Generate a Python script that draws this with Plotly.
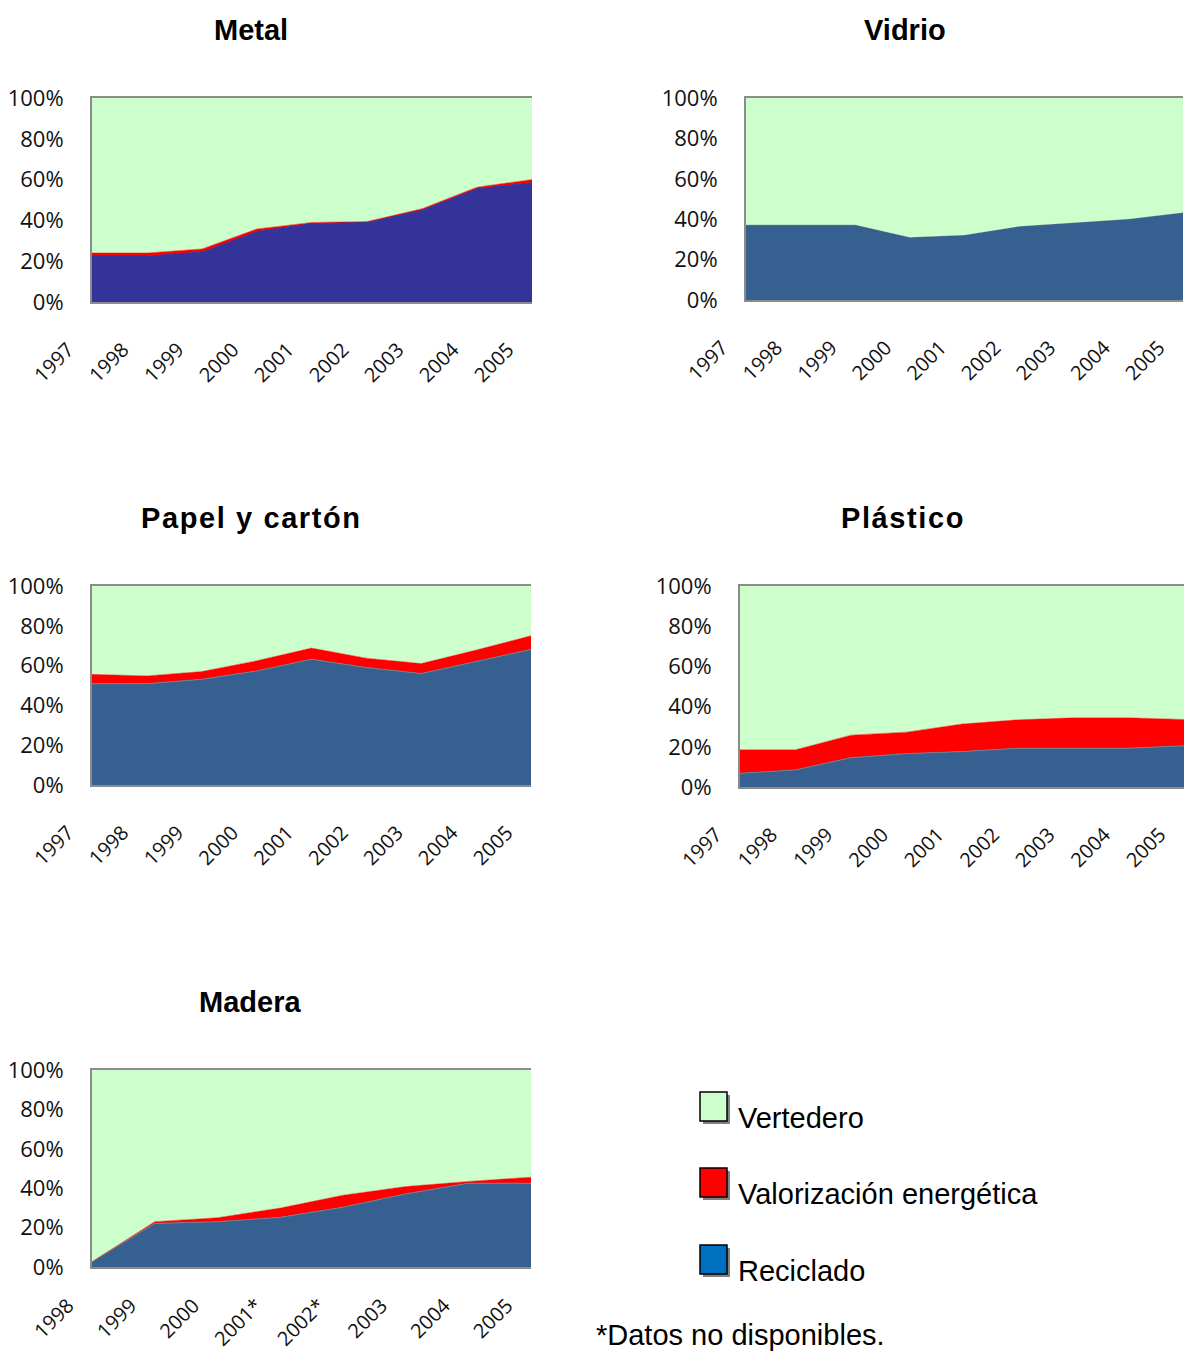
import plotly.graph_objects as go

# ---- data (percent of each material's waste by destination) ----
years_main = ["1997", "1998", "1999", "2000", "2001", "2002", "2003", "2004", "2005"]
years_madera = ["1998", "1999", "2000", "2001*", "2002*", "2003", "2004", "2005"]

metal_reciclado = [22.5, 22.5, 24.5, 34.5, 38.5, 39.0, 45.0, 55.5, 58.5]
metal_valorizacion = [1.5, 1.5, 1.5, 1.3, 0.5, 0.4, 0.7, 0.8, 1.5]
metal_vertedero = [76.0, 76.0, 74.0, 64.2, 61.0, 60.6, 54.3, 43.7, 40.0]

vidrio_reciclado = [37.2, 37.2, 37.2, 31.1, 32.2, 36.5, 38.2, 40.1, 43.3]
vidrio_valorizacion = [0, 0, 0, 0, 0, 0, 0, 0, 0]
vidrio_vertedero = [62.8, 62.8, 62.8, 68.9, 67.8, 63.5, 61.8, 59.9, 56.7]

papel_reciclado = [50.9, 50.9, 53.1, 57.3, 63.2, 59.0, 56.0, 62.0, 68.1]
papel_valorizacion = [4.7, 3.9, 3.9, 5.1, 5.6, 4.7, 5.0, 5.8, 6.9]
papel_vertedero = [44.4, 45.2, 43.0, 37.6, 31.2, 36.3, 39.0, 32.2, 25.0]

plastico_reciclado = [6.8, 8.5, 14.6, 16.6, 17.6, 19.3, 19.3, 19.3, 20.5]
plastico_valorizacion = [11.7, 10.0, 11.2, 10.7, 13.7, 14.1, 15.1, 15.1, 13.1]
plastico_vertedero = [81.5, 81.5, 74.2, 72.7, 68.7, 66.6, 65.6, 65.6, 66.4]

madera_reciclado = [2.7, 22.1, 23.0, 25.2, 30.3, 37.1, 42.5, 42.5]
madera_valorizacion = [0.0, 0.9, 2.0, 4.7, 6.1, 3.7, 0.9, 3.1]
madera_vertedero = [97.3, 77.0, 75.0, 70.1, 63.6, 59.2, 56.6, 54.4]

W, H = 1185, 1351
GREEN = "#CCFFCC"
RED = "#FF0000"
STEEL = "#36608F"
INDIGO = "#333399"
LEGEND_BLUE = "#0070C0"
TICK_FONT = "Open Sans"
TITLE_FONT = "Liberation Sans"


def px_x(x):
    return x / W


def px_y(y):
    return 1 - y / H


# panel: title, labels, series, plot box in pixels (left, top, right, bottom),
# blue colour, title centre, spaced title, x-label standoff
panels = [
    ("Metal", years_main, metal_reciclado, metal_valorizacion, metal_vertedero,
     (92, 98, 532, 302), INDIGO, (251, 30), False, 26),
    ("Vidrio", years_main, vidrio_reciclado, vidrio_valorizacion, vidrio_vertedero,
     (746, 98, 1183, 300), STEEL, (905, 30), False, 26),
    ("Papel y cartón", years_main, papel_reciclado, papel_valorizacion, papel_vertedero,
     (92, 586, 531, 785), STEEL, (251, 518), True, 26),
    ("Plástico", years_main, plastico_reciclado, plastico_valorizacion, plastico_vertedero,
     (740, 586, 1184, 787), STEEL, (903, 518), True, 26),
    ("Madera", years_madera, madera_reciclado, madera_valorizacion, madera_vertedero,
     (92, 1070, 531, 1267), STEEL, (250, 1002), False, 17),
]

fig = go.Figure()
annotations = []
shapes = []

for i, (title, labels, rec, val, ver, box, blue, tpos, spaced, standoff) in enumerate(panels, start=1):
    xa = "x" if i == 1 else f"x{i}"
    ya = "y" if i == 1 else f"y{i}"
    idx = list(range(len(labels)))
    group = f"g{i}"
    edge = blue if blue == INDIGO else "#6f7f92"
    red_w = 0.5 if any(v > 0 for v in val) else 0
    fig.add_trace(go.Scatter(x=idx, y=rec, name="Reciclado", stackgroup=group,
                             mode="lines", line=dict(color=edge, width=1),
                             fillcolor=blue, xaxis=xa, yaxis=ya, showlegend=False))
    fig.add_trace(go.Scatter(x=idx, y=val, name="Valorización energética", stackgroup=group,
                             mode="lines", line=dict(color=RED, width=red_w),
                             fillcolor=RED, xaxis=xa, yaxis=ya, showlegend=False))
    fig.add_trace(go.Scatter(x=idx, y=ver, name="Vertedero", stackgroup=group,
                             mode="lines", line=dict(color=GREEN, width=0),
                             fillcolor=GREEN, xaxis=xa, yaxis=ya, showlegend=False))

    left, top, right, bottom = box
    xkey = "xaxis" if i == 1 else f"xaxis{i}"
    ykey = "yaxis" if i == 1 else f"yaxis{i}"
    fig.update_layout({
        xkey: dict(domain=[px_x(left), px_x(right)], range=[0, len(labels) - 1],
                   anchor=ya, tickvals=idx, ticktext=labels, tickangle=-45,
                   tickfont=dict(family=TICK_FONT, size=20, color="#111111"),
                   showgrid=False, zeroline=False, ticks="", automargin=False,
                   ticklabelshift=-24, ticklabelstandoff=standoff,
                   showline=True, linecolor="#8c8c8c", linewidth=2, mirror=True,
                   fixedrange=True),
        ykey: dict(domain=[px_y(bottom), px_y(top)], range=[0, 100], anchor=xa,
                   tickvals=[0, 20, 40, 60, 80, 100],
                   ticktext=["0%", "20%", "40%", "60%", "80%", "100%"],
                   tickfont=dict(family=TICK_FONT, size=22, color="#111111"),
                   showgrid=False, zeroline=False, ticks="", ticklabelstandoff=22,
                   automargin=False,
                   showline=True, linecolor="#8c8c8c", linewidth=2,
                   fixedrange=True),
    })

    text = f"<b>{title}</b>"
    if spaced:
        text = f"<b><span style='letter-spacing:1.6px'>{title}</span></b>"
    annotations.append(dict(text=text, x=px_x(tpos[0]), y=px_y(tpos[1]),
                            xref="paper", yref="paper", xanchor="center", yanchor="middle",
                            showarrow=False,
                            font=dict(family=TITLE_FONT, size=29, color="#000000")))

# legend drawn as swatches with drop shadows
legend_items = [("Vertedero", GREEN, 1092), ("Valorización energética", RED, 1168),
                ("Reciclado", LEGEND_BLUE, 1245)]
for name, color, y0 in legend_items:
    x0, size_w, size_h = 700, 27, 29
    shapes.append(dict(type="rect", xref="paper", yref="paper",
                       x0=px_x(x0 + 3), x1=px_x(x0 + size_w + 3),
                       y0=px_y(y0 + size_h + 3), y1=px_y(y0 + 3),
                       fillcolor="#808080", line=dict(width=0)))
    shapes.append(dict(type="rect", xref="paper", yref="paper",
                       x0=px_x(x0), x1=px_x(x0 + size_w),
                       y0=px_y(y0 + size_h), y1=px_y(y0),
                       fillcolor=color, line=dict(color="#000000", width=1.5)))
    annotations.append(dict(text=name, x=px_x(736), y=px_y(y0 + 26),
                            xref="paper", yref="paper", xanchor="left", yanchor="middle",
                            showarrow=False,
                            font=dict(family="Liberation Sans", size=29, color="#000000")))

annotations.append(dict(text="*Datos no disponibles.", x=px_x(594), y=px_y(1335),
                        xref="paper", yref="paper", xanchor="left", yanchor="middle",
                        showarrow=False,
                        font=dict(family="Liberation Sans", size=29, color="#000000")))

fig.update_layout(width=W, height=H, margin=dict(l=0, r=0, t=0, b=0, autoexpand=False),
                  paper_bgcolor="white", plot_bgcolor="white",
                  annotations=annotations, shapes=shapes, showlegend=False)

fig.write_html("out.html")
